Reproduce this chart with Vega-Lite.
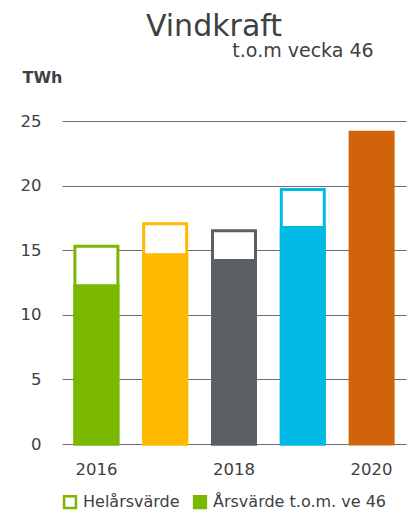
{
  "$schema": "https://vega.github.io/schema/vega-lite/v6.json",
  "width": 413,
  "height": 514,
  "autosize": {"type": "fit", "contains": "padding"},
  "padding": {"left": 20, "right": 7, "top": 12, "bottom": 1},
  "background": "white",
  "config": {
    "font": "DejaVu Sans",
    "view": {"stroke": null},
    "axis": {"labelColor": "#404040", "titleColor": "#404040", "labelFont": "DejaVu Sans", "titleFont": "DejaVu Sans"},
    "legend": {"labelFont": "DejaVu Sans"}
  },
  "title": {
    "text": "Vindkraft",
    "subtitle": "t.o.m vecka 46",
    "anchor": "middle",
    "font": "DejaVu Sans",
    "subtitleFont": "DejaVu Sans",
    "fontSize": 30,
    "fontWeight": "normal",
    "color": "#404040",
    "subtitleFontSize": 19,
    "subtitleColor": "#404040",
    "subtitlePadding": 0,
    "offset": 8,
    "dx": -20,
    "encode": {"subtitle": {"update": {"dx": {"value": 69}}}}
  },
  "datasets": {
    "bars": [
      {"year": "2016", "full": 15.3, "ytd": 12.25},
      {"year": "2017", "full": 17.05, "ytd": 14.65},
      {"year": "2018", "full": 16.5, "ytd": 14.2},
      {"year": "2019", "full": 19.7, "ytd": 16.75},
      {"year": "2020", "full": null, "ytd": 24.13}
    ],
    "legend": [
      {"k": "Helårsvärde"},
      {"k": "Årsvärde t.o.m. ve 46"}
    ]
  },
  "layer": [
    {
      "data": {"name": "bars"},
      "mark": {"type": "bar", "fill": "white", "strokeWidth": 3},
      "encoding": {
        "x": {
          "field": "year", "type": "ordinal",
          "scale": {"paddingInner": 0.375, "paddingOuter": 0.1875},
          "axis": {"title": null, "values": ["2016", "2018", "2020"], "labelAngle": 0, "ticks": false, "tickSize": 0, "domain": false, "grid": false, "labelFontSize": 16.5, "labelPadding": 17}
        },
        "y": {
          "field": "full", "type": "quantitative",
          "scale": {"domain": [0, 25], "nice": false},
          "axis": {
            "title": "TWh", "titleAngle": 0, "titleFontSize": 16, "titleFontWeight": "bold",
            "titleAlign": "left", "titleBaseline": "alphabetic", "titleX": -40, "titleY": -39,
            "values": [0, 5, 10, 15, 20, 25], "domain": false, "ticks": false, "tickSize": 0,
            "labelPadding": 21, "labelFontSize": 16.5, "grid": true, "gridColor": "#6d6d6d", "gridWidth": 1.2
          }
        },
        "stroke": {
          "field": "year", "type": "ordinal",
          "scale": {"domain": ["2016", "2017", "2018", "2019", "2020"], "range": ["#7AB800", "#FFB900", "#5C6064", "#00B9E4", "#D1640A"]},
          "legend": null
        }
      }
    },
    {
      "data": {"name": "bars"},
      "mark": {"type": "bar", "strokeWidth": 3},
      "encoding": {
        "x": {"field": "year", "type": "ordinal"},
        "y": {"field": "ytd", "type": "quantitative"},
        "color": {
          "field": "year", "type": "ordinal",
          "scale": {"domain": ["2016", "2017", "2018", "2019", "2020"], "range": ["#7AB800", "#FFB900", "#5C6064", "#00B9E4", "#D1640A"]},
          "legend": null
        },
        "stroke": {"field": "year", "type": "ordinal"}
      }
    },
    {
      "data": {"name": "legend"},
      "mark": {"type": "square", "filled": true, "opacity": 0, "size": 0},
      "encoding": {
        "fill": {
          "field": "k", "type": "nominal",
          "scale": {"domain": ["Helårsvärde", "Årsvärde t.o.m. ve 46"], "range": ["white", "#7AB800"]},
          "legend": {
            "title": null, "orient": "bottom", "direction": "horizontal",
            "symbolType": "square", "symbolSize": 140, "symbolOpacity": 1,
            "symbolStrokeColor": "#7AB800", "symbolStrokeWidth": 2.5,
            "labelFontSize": 16, "labelColor": "#404040", "labelOffset": 5, "labelLimit": 400,
            "columnPadding": 9, "offset": 16, "padding": 0
          }
        }
      }
    }
  ]
}
